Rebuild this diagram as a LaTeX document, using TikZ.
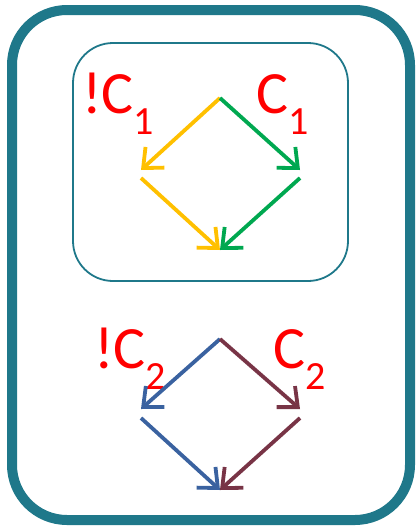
\documentclass[tikz,border=0pt]{standalone}
\usepackage{fontspec}
\setmainfont{Carlito}
\usetikzlibrary{arrows.meta}
\definecolor{frameteal}{RGB}{31,120,138}
\definecolor{argold}{RGB}{255,192,0}
\definecolor{argreen}{RGB}{0,168,80}
\definecolor{arblue}{RGB}{58,98,160}
\definecolor{arwine}{RGB}{120,52,70}
\newcommand{\lowidx}[1]{\raisebox{-0.36em}{\fontsize{40}{40}\selectfont #1}}
\begin{document}
\begin{tikzpicture}[x=1pt, y=-1pt,
    outerbox/.style={rectangle, rounded corners=55pt, draw=frameteal, line width=10pt, inner sep=0pt},
    innerbox/.style={rectangle, rounded corners=40pt, draw=frameteal, line width=1.8pt, inner sep=0pt},
    cond/.style={anchor=base west, inner sep=0pt, text=red, font=\fontsize{60}{60}\selectfont},
    edge/.style={line width=3.8pt, -{Straight Barb[length=16pt, width=28pt, line width=3.8pt]}}]

    \useasboundingbox (0,0) rectangle (420,528);

    % Frames
    \node[outerbox, minimum width=398pt, minimum height=510pt] (frame) at (211,265) {};
    \node[innerbox, minimum width=275pt, minimum height=238pt] (box1) at (210.5,162) {};

    % Upper diamond
    \coordinate (top1) at (220,98);
    \coordinate (left1) at (141,170);
    \coordinate (left1b) at (141,178);
    \coordinate (right1) at (300,170);
    \coordinate (right1b) at (300,178);
    \coordinate (bot1) at (220,250);
    \node[cond] (nc1) at (82,113) {!C\lowidx{1}};
    \node[cond] (c1) at (256,113) {C\lowidx{1}};
    \draw[edge, argold] (top1) -- (left1);
    \draw[edge, argold] (left1b) -- (bot1);
    \draw[edge, argreen] (top1) -- (right1);
    \draw[edge, argreen] (right1b) -- (bot1);

    % Lower diamond
    \coordinate (top2) at (220,339);
    \coordinate (left2) at (141,409);
    \coordinate (left2b) at (141,418);
    \coordinate (right2) at (300,409);
    \coordinate (right2b) at (300,418);
    \coordinate (bot2) at (220,490);
    \node[cond] (nc2) at (94,368) {!C\lowidx{2}};
    \node[cond] (c2) at (273,368) {C\lowidx{2}};
    \draw[edge, arblue] (top2) -- (left2);
    \draw[edge, arblue] (left2b) -- (bot2);
    \draw[edge, arwine] (top2) -- (right2);
    \draw[edge, arwine] (right2b) -- (bot2);

\end{tikzpicture}
\end{document}
